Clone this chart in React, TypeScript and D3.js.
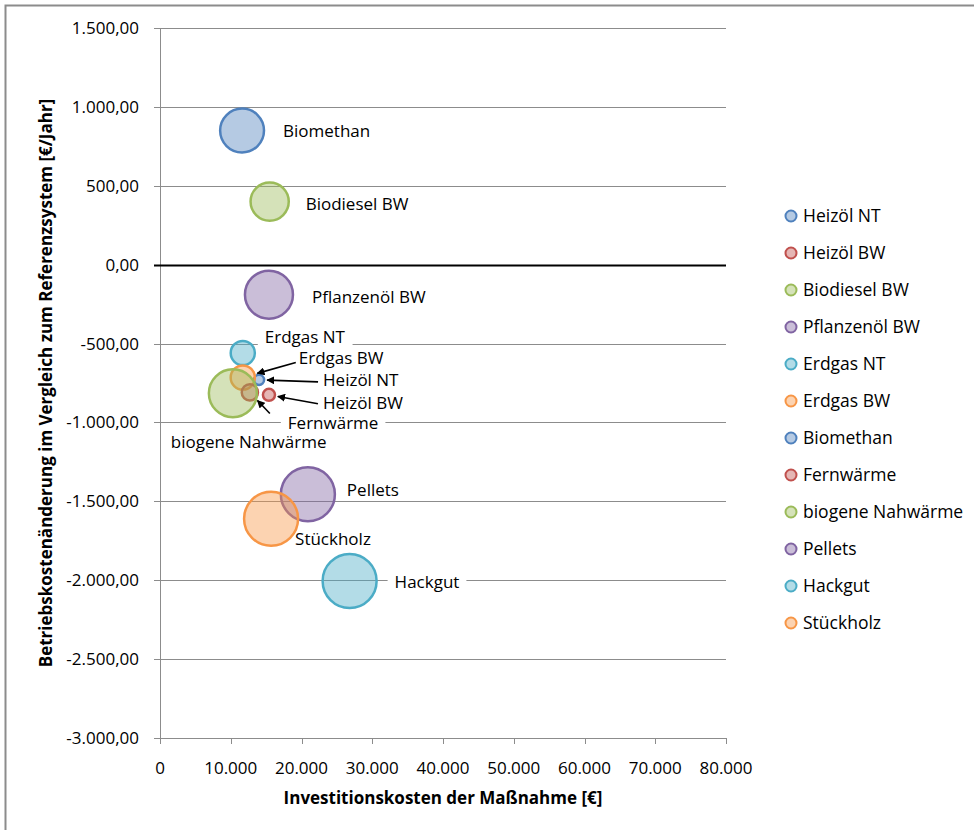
import React, { useRef, useEffect } from 'react';
import * as d3 from 'd3';

// Heating systems (series order as in the legend)
const systems = [
  'Heizöl NT', 'Heizöl BW', 'Biodiesel BW', 'Pflanzenöl BW', 'Erdgas NT', 'Erdgas BW',
  'Biomethan', 'Fernwärme', 'biogene Nahwärme', 'Pellets', 'Hackgut', 'Stückholz',
];
// Investitionskosten [€]
const investment = [14000, 15400, 15500, 15400, 11700, 11700, 11600, 12700, 10300, 20900, 26800, 15700];
// Betriebskostenänderung [€/Jahr]
const costChange = [-730, -825, 400, -190, -560, -715, 850, -810, -815, -1455, -2005, -1610];
// bubble size values
const bubbleSize = [3.5, 5, 50, 79, 20, 20, 66, 9, 79, 100, 100, 100];

const xTicks = [0, 10000, 20000, 30000, 40000, 50000, 60000, 70000, 80000];
const yTicks = [1500, 1000, 500, 0, -500, -1000, -1500, -2000, -2500, -3000];

const palette = ['#4F81BD', '#C0504D', '#9BBB59', '#8064A2', '#4BACC6', '#F79646'];

// label placement: offset of text start from bubble centre (px), optional arrow tail offset from text start
const labelPlacement: { dx: number; dy: number; arrow?: [number, number] }[] = [
  { dx: 64, dy: 0, arrow: [-5, 2] },
  { dx: 54, dy: 8, arrow: [-5, 1] },
  { dx: 36, dy: 2 },
  { dx: 43, dy: 2 },
  { dx: 22, dy: -16 },
  { dx: 56, dy: -19, arrow: [-3, 4] },
  { dx: 41, dy: 0 },
  { dx: 38, dy: 31, arrow: [-18, -10] },
  { dx: -62, dy: 49 },
  { dx: 39, dy: -4 },
  { dx: 45, dy: 1 },
  { dx: 24, dy: 20 },
];

const FONT = '"Open Sans", "Noto Sans", sans-serif';

const BubbleChart: React.FC = () => {
  const ref = useRef<SVGSVGElement | null>(null);

  useEffect(() => {
    if (!ref.current) return;
    const svg = d3.select(ref.current);
    svg.selectAll('*').remove();

    const width = 974;
    const height = 830;
    const left = 160, right = 726, top = 28, bottom = 738;

    const x = d3.scaleLinear().domain([0, 80000]).range([left, right]);
    const y = d3.scaleLinear().domain([-3000, 1500]).range([bottom, top]);
    const r = d3.scaleSqrt().domain([0, 100]).range([0, 27]);

    svg.attr('width', width).attr('height', height).attr('viewBox', `0 0 ${width} ${height}`);

    svg.append('rect').attr('width', width).attr('height', height).attr('fill', '#fff');

    // Frame (left and top border)
    svg.append('path')
      .attr('d', `M5.5,${height} L5.5,5.5 L${width},5.5`)
      .attr('fill', 'none')
      .attr('stroke', '#8c8c8c')
      .attr('stroke-width', 2);

    // Gridlines
    svg.append('g')
      .selectAll('line')
      .data(yTicks.filter(t => t !== 0 && t !== -3000))
      .enter()
      .append('line')
      .attr('x1', left).attr('x2', right)
      .attr('y1', d => Math.round(y(d)) + 0.5).attr('y2', d => Math.round(y(d)) + 0.5)
      .attr('stroke', '#8c8c8c')
      .attr('stroke-width', 1);

    const locale = d3.formatLocale({ decimal: ',', thousands: '.', grouping: [3], currency: ['', '€'], minus: '-' });

    // Y axis
    const yAxis = svg.append('g');
    yAxis.append('line')
      .attr('x1', left + 0.5).attr('x2', left + 0.5)
      .attr('y1', top).attr('y2', bottom)
      .attr('stroke', '#8c8c8c');
    yAxis.selectAll('line.tick')
      .data(yTicks)
      .enter()
      .append('line')
      .attr('class', 'tick')
      .attr('x1', left - 6).attr('x2', left)
      .attr('y1', d => Math.round(y(d)) + 0.5).attr('y2', d => Math.round(y(d)) + 0.5)
      .attr('stroke', '#8c8c8c');
    const fmtY = locale.format(',.2f');
    yAxis.selectAll('text')
      .data(yTicks)
      .enter()
      .append('text')
      .attr('x', left - 21)
      .attr('y', d => y(d))
      .attr('dy', '0.35em')
      .attr('text-anchor', 'end')
      .attr('font-family', FONT)
      .attr('font-size', 17)
      .attr('fill', '#000')
      .text(d => fmtY(d));

    // X axis
    const xAxis = svg.append('g');
    xAxis.append('line')
      .attr('x1', left).attr('x2', right)
      .attr('y1', bottom + 0.5).attr('y2', bottom + 0.5)
      .attr('stroke', '#8c8c8c');
    xAxis.selectAll('line.tick')
      .data(xTicks)
      .enter()
      .append('line')
      .attr('class', 'tick')
      .attr('x1', d => Math.round(x(d)) + 0.5).attr('x2', d => Math.round(x(d)) + 0.5)
      .attr('y1', bottom).attr('y2', bottom + 6)
      .attr('stroke', '#8c8c8c');
    const fmtX = locale.format(',.0f');
    xAxis.selectAll('text')
      .data(xTicks)
      .enter()
      .append('text')
      .attr('x', d => x(d))
      .attr('y', bottom + 30)
      .attr('dy', '0.35em')
      .attr('text-anchor', 'middle')
      .attr('font-family', FONT)
      .attr('font-size', 17)
      .text(d => fmtX(d));

    // Zero line
    svg.append('line')
      .attr('x1', left - 6).attr('x2', right)
      .attr('y1', Math.round(y(0)) + 0.5).attr('y2', Math.round(y(0)) + 0.5)
      .attr('stroke', '#000')
      .attr('stroke-width', 2);

    // Axis titles
    svg.append('text')
      .attr('x', (left + right) / 2)
      .attr('y', 798)
      .attr('dy', '0.35em')
      .attr('text-anchor', 'middle')
      .attr('font-family', FONT)
      .attr('font-weight', 'bold')
      .attr('font-size', 17)
      .text('Investitionskosten der Maßnahme [€]');

    svg.append('text')
      .attr('transform', `translate(46,${(top + bottom) / 2}) rotate(-90)`)
      .attr('dy', '0.35em')
      .attr('text-anchor', 'middle')
      .attr('font-family', FONT)
      .attr('font-weight', 'bold')
      .attr('font-size', 17)
      .text('Betriebskostenänderung im Vergleich zum Referenzsystem [€/Jahr]');

    const data = systems.map((name, i) => ({
      name,
      cx: x(investment[i]),
      cy: y(costChange[i]),
      rad: r(bubbleSize[i]),
      color: palette[i % palette.length],
      place: labelPlacement[i],
    }));

    // Label backgrounds (white boxes interrupting gridlines), drawn under the bubbles
    const labelBg = svg.append('g');
    const bubbles = svg.append('g');
    const labels = svg.append('g');

    bubbles.selectAll('circle')
      .data(data)
      .enter()
      .append('circle')
      .attr('cx', d => d.cx)
      .attr('cy', d => d.cy)
      .attr('r', d => d.rad)
      .attr('fill', d => d.color)
      .attr('fill-opacity', 0.42)
      .attr('stroke', d => d.color)
      .attr('stroke-width', 2.5);

    // Arrow marker
    svg.append('defs')
      .append('marker')
      .attr('id', 'arrowhead')
      .attr('viewBox', '0 0 10 10')
      .attr('refX', 9).attr('refY', 5)
      .attr('markerWidth', 5).attr('markerHeight', 5)
      .attr('orient', 'auto')
      .append('path')
      .attr('d', 'M0,0 L10,5 L0,10 z')
      .attr('fill', '#000');

    data.forEach(d => {
      const tx = d.cx + d.place.dx;
      const ty = d.cy + d.place.dy;
      const t = labels.append('text')
        .attr('x', tx)
        .attr('y', ty)
        .attr('dy', '0.35em')
        .attr('font-family', FONT)
        .attr('font-size', 17)
        .text(d.name);
      const bb = (t.node() as SVGTextElement).getBBox();
      labelBg.append('rect')
        .attr('fill', '#fff')
        .attr('x', bb.x - 7).attr('y', bb.y + 2)
        .attr('width', bb.width + 14).attr('height', bb.height - 4);

      if (d.place.arrow) {
        const ax = tx + d.place.arrow[0];
        const ay = ty + d.place.arrow[1];
        const ang = Math.atan2(ay - d.cy, ax - d.cx);
        const dist = d.rad + 3;
        labels.append('line')
          .attr('x1', ax).attr('y1', ay)
          .attr('x2', d.cx + Math.cos(ang) * dist)
          .attr('y2', d.cy + Math.sin(ang) * dist)
          .attr('stroke', '#000')
          .attr('stroke-width', 1.6)
          .attr('marker-end', 'url(#arrowhead)');
      }
    });

    // Legend
    const legend = svg.append('g').attr('transform', 'translate(791,216)');
    systems.forEach((name, i) => {
      const row = legend.append('g').attr('transform', `translate(0,${i * 37})`);
      row.append('circle')
        .attr('r', 5.5)
        .attr('fill', palette[i % palette.length])
        .attr('fill-opacity', 0.42)
        .attr('stroke', palette[i % palette.length])
        .attr('stroke-width', 2);
      row.append('text')
        .attr('x', 12)
        .attr('dy', '0.35em')
        .attr('font-family', FONT)
        .attr('font-size', 17.5)
        .text(name);
    });
  }, []);

  return <svg ref={ref} style={{ position: 'absolute', left: 0, top: 0, display: 'block' }} />;
};

export default function App() {
  return <BubbleChart />;
}
